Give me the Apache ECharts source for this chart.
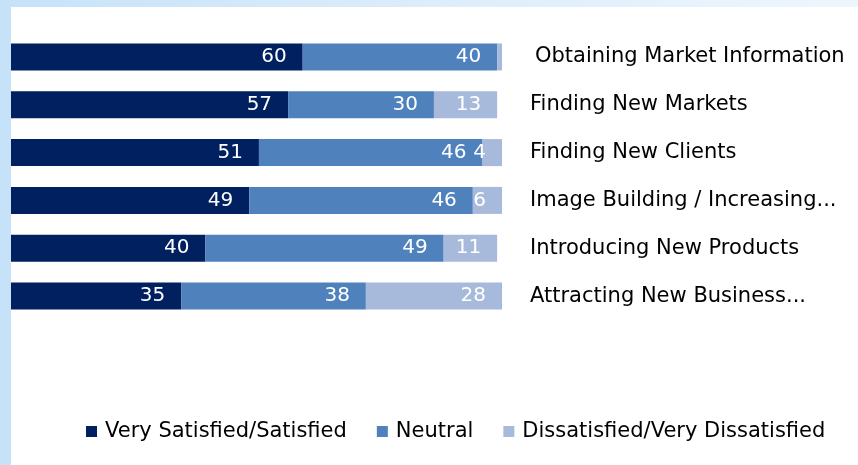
<!DOCTYPE html>
<html>
<head>
<meta charset="utf-8">
<script src="https://cdn.jsdelivr.net/npm/echarts@6/dist/echarts.min.js"></script>
<style>
  html, body {
    margin: 0;
    padding: 0;
    width: 858px;
    height: 465px;
    overflow: hidden;
    background: linear-gradient(to right, #c6e2f8 0%, #dcedfb 50%, #eef6fd 100%);
  }
  .panel {
    position: absolute;
    left: 11px;
    top: 7px;
    right: 0;
    bottom: 0;
    background: #fff;
  }
  #chart {
    position: absolute;
    left: 0;
    top: 0;
    width: 858px;
    height: 465px;
  }
</style>
</head>
<body>
<div class="panel"></div>
<div id="chart"></div>
<script>
// categories, top to bottom
const categories = [
  'Obtaining Market Information',
  'Finding New Markets',
  'Finding New Clients',
  'Image Building / Increasing...',
  'Introducing New Products',
  'Attracting New Business...',
];
const seriesNames = ['Very Satisfied/Satisfied', 'Neutral', 'Dissatisfied/Very Dissatisfied'];
const satisfied = [60, 57, 51, 49, 40, 35];
const neutral = [40, 30, 46, 46, 49, 38];
const dissatisfied = [1, 13, 4, 6, 11, 28];

const colors = ['#002060', '#4f81bd', '#a8badb'];
const font = '"DejaVu Sans", sans-serif';

const chart = echarts.init(document.getElementById('chart'));

function makeSeries(name, data, color) {
  return {
    name: name,
    type: 'bar',
    stack: 'total',
    data: data,
    barWidth: 27,
    itemStyle: { color: color },
    label: {
      show: true,
      position: 'insideRight',
      distance: 16,
      color: '#fff',
      fontSize: 20,
      fontFamily: font,
      formatter: (p) => (p.value < 2 ? '' : p.value),
    },
  };
}

chart.setOption({
  animation: false,
  backgroundColor: 'transparent',
  grid: {
    left: 11,
    right: 356,
    top: 33,
    height: 287,
    containLabel: false,
  },
  legend: {
    data: seriesNames,
    left: 86,
    top: 421,
    padding: 0,
    icon: 'rect',
    itemWidth: 11,
    itemHeight: 11,
    itemGap: 30,
    textStyle: {
      color: '#000',
      fontSize: 21,
      fontFamily: font,
      padding: [0, 0, 0, 3],
    },
  },
  xAxis: {
    type: 'value',
    min: 0,
    max: 101,
    show: false,
  },
  yAxis: {
    type: 'category',
    data: categories,
    inverse: true,
    position: 'right',
    axisLine: { show: false },
    axisTick: { show: false },
    axisLabel: {
      margin: 28,
      align: 'left',
      color: '#000',
      fontSize: 21,
      fontFamily: font,
      formatter: (v, i) => (i === 0 ? '{a|' + v + '}' : v),
      rich: {
        a: {
          color: '#000',
          fontSize: 21,
          fontFamily: font,
          padding: [0, 0, 0, 5],
        },
      },
    },
  },
  series: [
    makeSeries(seriesNames[0], satisfied, colors[0]),
    makeSeries(seriesNames[1], neutral, colors[1]),
    makeSeries(seriesNames[2], dissatisfied, colors[2]),
  ],
});
</script>
</body>
</html>
